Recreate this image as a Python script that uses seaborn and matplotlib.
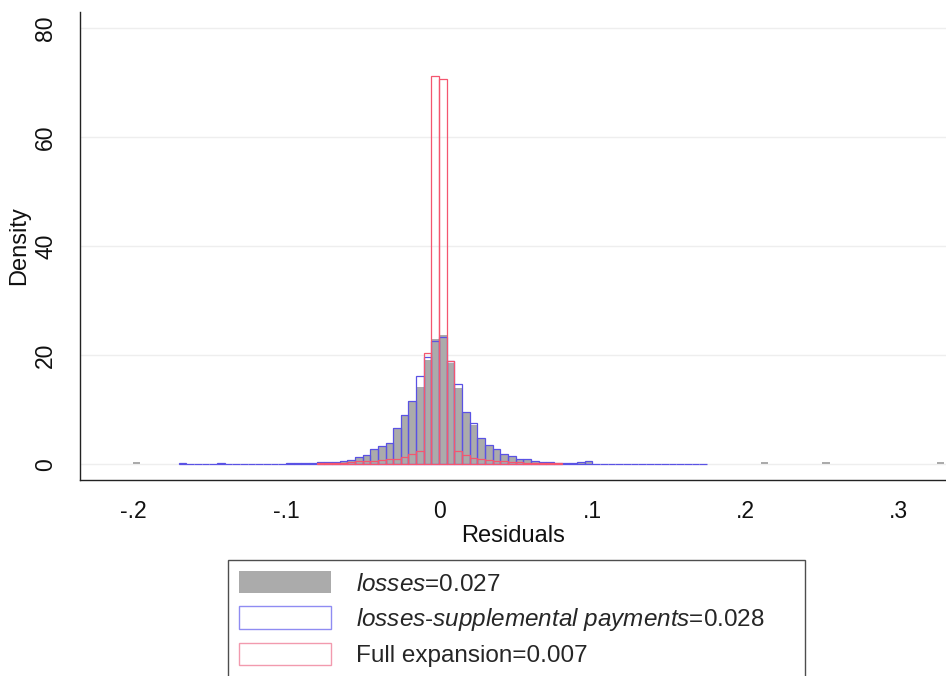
import numpy as np
import pandas as pd
import matplotlib
matplotlib.use("Agg")
import matplotlib.pyplot as plt
from matplotlib.patches import Patch
import seaborn as sns

# ---------------- data (bin centers, bin width 0.005) ----------------
# central bins: left edges -0.100 ... 0.095
central_centers = [round(-0.0975 + 0.005 * i, 4) for i in range(40)]

losses = [0.2, 0.2, 0.3, 0.3, 0.35, 0.4, 0.45, 0.55, 0.7, 1.3,
          1.7, 2.8, 3.3, 3.9, 6.6, 9.0, 11.6, 14.2, 19.1, 22.9,
          23.6, 18.6, 13.9, 9.5, 7.2, 4.7, 3.5, 2.8, 1.8, 1.5,
          1.0, 0.9, 0.6, 0.45, 0.35, 0.3, 0.3, 0.25, 0.3, 0.45]
losses_tail_x = [-0.1975, 0.2125, 0.2525, 0.3275]
losses_tail_h = [0.35, 0.35, 0.35, 0.35]

losses_supp = [0.15, 0.2, 0.3, 0.3, 0.35, 0.4, 0.45, 0.55, 0.7, 1.3,
               1.7, 2.8, 3.3, 3.9, 6.7, 9.0, 11.6, 16.2, 19.6, 22.6,
               23.4, 18.9, 14.7, 9.6, 7.6, 4.8, 3.5, 2.8, 1.9, 1.5,
               1.0, 0.9, 0.6, 0.45, 0.35, 0.3, 0.3, 0.25, 0.35, 0.5]
supp_tail_x = [-0.1675, -0.1425, 0.1725]
supp_tail_h = [0.15, 0.15, 0.0]

# full expansion: left edges -0.080 ... 0.075
full_centers = [round(-0.0775 + 0.005 * i, 4) for i in range(32)]
full_exp = [0.2, 0.2, 0.3, 0.3, 0.4, 0.5, 0.5, 0.6, 0.7, 0.9,
            1.0, 1.3, 1.8, 2.5, 20.4, 71.1, 70.6, 18.9, 2.4, 1.6,
            1.2, 0.9, 0.8, 0.6, 0.5, 0.4, 0.4, 0.3, 0.3, 0.2,
            0.2, 0.2]

labels = [r"$\mathit{losses}$=0.027",
          r"$\mathit{losses}$-$\mathit{supplemental\ payments}$=0.028",
          "Full expansion=0.007"]
xticks = [-0.2, -0.1, 0.0, 0.1, 0.2, 0.3]
xticklabels = ["-.2", "-.1", "0", ".1", ".2", ".3"]
yticks = [0, 20, 40, 60, 80]

GRAY = "#ababab"
BLUE = "#5a52e4"
RED = "#f4566f"

# ---------------- style ----------------
sns.set_style("white")
plt.rcParams["font.family"] = ["Liberation Sans", "DejaVu Sans"]
plt.rcParams["mathtext.fontset"] = "custom"
plt.rcParams["mathtext.rm"] = "Liberation Sans"
plt.rcParams["mathtext.it"] = "Liberation Sans:italic"

fig = plt.figure(figsize=(9.46, 6.76), dpi=100)
ax = fig.add_axes([80 / 946, 1 - 480 / 676, 1 - 80 / 946, (480 - 12) / 676])


def hist(centers, heights, **kw):
    df = pd.DataFrame({"x": [float(v) for v in centers],
                       "w": [float(v) for v in heights]})
    lo = round(df["x"].min() - 0.0025, 4)
    hi = round(df["x"].max() + 0.0025, 4)
    sns.histplot(data=df, x="x", weights="w", binwidth=0.005,
                 binrange=(lo, hi), stat="count", ax=ax, **kw)


hist(central_centers + losses_tail_x, losses + losses_tail_h,
     color=GRAY, alpha=1, linewidth=0, fill=True)
hist(central_centers + supp_tail_x, losses_supp + supp_tail_h,
     color=BLUE, fill=False, linewidth=0.9)
hist(full_centers, full_exp, color=RED, fill=False, linewidth=0.9)

ax.set_xlim(-0.2345, 0.331)
ax.set_ylim(-2.9, 82.9)
ax.set_xticks(xticks)
ax.set_xticklabels(xticklabels)
ax.set_yticks(yticks)
ax.set_yticklabels([str(v) for v in yticks])
ax.yaxis.grid(True, color="#eeeeee", linewidth=1)
ax.set_axisbelow(True)

for s in ["top", "right"]:
    ax.spines[s].set_visible(False)
for s in ["left", "bottom"]:
    ax.spines[s].set_color("#222222")
    ax.spines[s].set_linewidth(1.0)

ax.tick_params(axis="both", direction="out", length=5.5, width=1,
               color="#222222", labelsize=16.5, labelcolor="#111111")
ax.tick_params(axis="x", pad=9)
ax.tick_params(axis="y", pad=11)
for lab in ax.get_yticklabels():
    lab.set_rotation(90)
    lab.set_va("center")

ax.set_xlabel("Residuals", fontsize=17, labelpad=1, color="#111111")
ax.set_ylabel("Density", fontsize=17, labelpad=3, color="#111111")

handles = [Patch(facecolor=GRAY, edgecolor="none"),
           Patch(facecolor="white", edgecolor="#8f8cf2", linewidth=1.0),
           Patch(facecolor="white", edgecolor="#f29aae", linewidth=1.0)]
leg = fig.legend(handles, labels, loc="upper left",
                 bbox_to_anchor=(228 / 946, 0, 577 / 946, 1 - 560 / 676),
                 mode="expand", frameon=True, fancybox=False,
                 edgecolor="#222222", fontsize=17.5, handlelength=3.8,
                 handleheight=1.05, handletextpad=1.0, labelspacing=0.42,
                 borderpad=0.45, borderaxespad=0)
leg.get_frame().set_linewidth(1.0)

fig.savefig("out.png", dpi=100, facecolor="white")
